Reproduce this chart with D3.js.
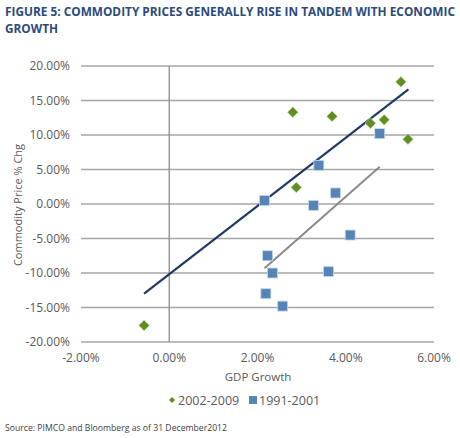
<!DOCTYPE html>
<html lang="en">
	<head>
		<meta charset="utf-8">
		<title>Commodity Prices vs GDP Growth</title>
		<script type="text/javascript" src="https://cdn.jsdelivr.net/npm/d3@7"></script>
		<style type="text/css">
			html, body {
				margin: 0;
				background-color: white;
			}
		</style>
	</head>
	<body>
		<script type="text/javascript">

			// 2002-2009 series (GDP growth %, commodity price % chg)
			var gdp0209 = [2.80, 3.69, 5.25, 4.56, 4.87, 5.41, 2.88, -0.57];
			var px0209 = [13.3, 12.7, 17.7, 11.7, 12.2, 9.4, 2.4, -17.6];

			// 1991-2001 series
			var gdp9101 = [2.16, 3.39, 4.77, 3.27, 3.77, 4.10, 2.23, 2.34, 3.61, 2.19, 2.57];
			var px9101 = [0.5, 5.6, 10.2, -0.2, 1.6, -4.5, -7.5, -10.0, -9.8, -13.0, -14.8];

			// trend line end points
			var trendAllX = [-0.57, 5.42];
			var trendAllY = [-13.0, 16.6];
			var trend9101X = [2.16, 4.77];
			var trend9101Y = [-9.3, 5.4];

			var xTicks = [-2, 0, 2, 4, 6];
			var yTicks = [20, 15, 10, 5, 0, -5, -10, -15, -20];
			var seriesNames = ["2002-2009", "1991-2001"];

			var w = 460;
			var h = 438;
			var green = "#5f8f20";
			var blue = "#5585b6";
			var navy = "#1d3a64";
			var grid = "#a6a6a6";
			var txt = "#595959";

			var svg = d3.select("body")
						.append("svg")
						.attr("width", w)
						.attr("height", h);

			var xScale = d3.scaleLinear()
							.domain([-2, 6])
							.range([81, 434]);

			var yScale = d3.scaleLinear()
							.domain([-20, 20])
							.range([342, 66]);

			//title
			var title = svg.append("text")
							.attr("x", 5)
							.attr("y", 16)
							.attr("fill", "#2c4a7c")
							.attr("font-family", "Open Sans, sans-serif")
							.attr("font-weight", "bold")
							.attr("font-size", 12);
			title.append("tspan")
				.attr("x", 5)
				.attr("textLength", 450)
				.attr("lengthAdjust", "spacingAndGlyphs")
				.text("FIGURE 5: COMMODITY PRICES GENERALLY RISE IN TANDEM WITH ECONOMIC");
			title.append("tspan")
				.attr("x", 5)
				.attr("dy", 17)
				.attr("textLength", 53)
				.attr("lengthAdjust", "spacingAndGlyphs")
				.text("GROWTH");

			//horizontal gridlines
			svg.append("g")
				.selectAll("line")
				.data(yTicks)
				.enter()
				.append("line")
				.attr("x1", xScale(-2))
				.attr("x2", xScale(6))
				.attr("y1", function(d) { return yScale(d); })
				.attr("y2", function(d) { return yScale(d); })
				.attr("stroke", grid)
				.attr("stroke-width", 1.3);

			//vertical axis line at 0
			svg.append("line")
				.attr("x1", xScale(0))
				.attr("x2", xScale(0))
				.attr("y1", yScale(20))
				.attr("y2", yScale(-20))
				.attr("stroke", "#8c8c8c")
				.attr("stroke-width", 1.3);

			// plain hyphen instead of the unicode minus
			var fmt = function(d) {
				return d3.format(".2f")(d).replace("\u2212", "-") + "%";
			};

			//y tick labels
			svg.append("g")
				.selectAll("text")
				.data(yTicks)
				.enter()
				.append("text")
				.attr("x", 70)
				.attr("y", function(d) { return yScale(d) + 4; })
				.attr("text-anchor", "end")
				.attr("fill", txt)
				.attr("font-family", "Open Sans, sans-serif")
				.attr("font-size", 12)
				.text(fmt);

			//x tick labels
			svg.append("g")
				.selectAll("text")
				.data(xTicks)
				.enter()
				.append("text")
				.attr("x", function(d) { return xScale(d); })
				.attr("y", 362)
				.attr("text-anchor", "middle")
				.attr("fill", txt)
				.attr("font-family", "Open Sans, sans-serif")
				.attr("font-size", 12)
				.text(fmt);

			//axis titles
			svg.append("text")
				.attr("x", 258)
				.attr("y", 381)
				.attr("text-anchor", "middle")
				.attr("fill", txt)
				.attr("font-family", "Open Sans, sans-serif")
				.attr("font-size", 11.5)
				.text("GDP Growth");

			svg.append("text")
				.attr("transform", "translate(22,205) rotate(-90)")
				.attr("text-anchor", "middle")
				.attr("fill", txt)
				.attr("font-family", "Open Sans, sans-serif")
				.attr("font-size", 11)
				.text("Commodity Price % Chg");

			//trend lines
			var line = d3.line()
						.x(function(d) { return xScale(d[0]); })
						.y(function(d) { return yScale(d[1]); });

			svg.append("path")
				.datum(d3.zip(trend9101X, trend9101Y))
				.attr("d", line)
				.attr("fill", "none")
				.attr("stroke", "#8a8a8a")
				.attr("stroke-width", 2);

			svg.append("path")
				.datum(d3.zip(trendAllX, trendAllY))
				.attr("d", line)
				.attr("fill", "none")
				.attr("stroke", navy)
				.attr("stroke-width", 2.2);

			//1991-2001 squares
			var sq = 10;
			svg.append("g")
				.selectAll("rect")
				.data(d3.zip(gdp9101, px9101))
				.enter()
				.append("rect")
				.attr("x", function(d) { return xScale(d[0]) - sq / 2; })
				.attr("y", function(d) { return yScale(d[1]) - sq / 2; })
				.attr("width", sq)
				.attr("height", sq)
				.attr("fill", blue)
				.attr("stroke", "#c9d7e8")
				.attr("stroke-width", 0.8);

			//2002-2009 diamonds
			var dm = d3.symbol().type(d3.symbolSquare).size(58);
			svg.append("g")
				.selectAll("path")
				.data(d3.zip(gdp0209, px0209))
				.enter()
				.append("path")
				.attr("d", dm)
				.attr("transform", function(d) {
					return "translate(" + xScale(d[0]) + "," + yScale(d[1]) + ") rotate(45)";
				})
				.attr("fill", green)
				.attr("stroke", "#d5e3c3")
				.attr("stroke-width", 0.6);

			//legend
			var leg = svg.append("g");
			leg.append("path")
				.attr("d", d3.symbol().type(d3.symbolSquare).size(18))
				.attr("transform", "translate(172,400) rotate(45)")
				.attr("fill", green);
			leg.append("text")
				.attr("x", 178)
				.attr("y", 404.5)
				.attr("fill", txt)
				.attr("font-family", "Open Sans, sans-serif")
				.attr("font-size", 12.5)
				.text(seriesNames[0]);
			leg.append("rect")
				.attr("x", 249)
				.attr("y", 396)
				.attr("width", 8)
				.attr("height", 8)
				.attr("fill", blue);
			leg.append("text")
				.attr("x", 259)
				.attr("y", 404.5)
				.attr("fill", txt)
				.attr("font-family", "Open Sans, sans-serif")
				.attr("font-size", 12.5)
				.text(seriesNames[1]);

			//source
			svg.append("text")
				.attr("x", 5)
				.attr("y", 431)
				.attr("fill", "#404040")
				.attr("font-family", "Open Sans, sans-serif")
				.attr("font-size", 9)
				.attr("textLength", 222)
				.attr("lengthAdjust", "spacingAndGlyphs")
				.text("Source: PIMCO and Bloomberg as of 31 December2012");

		</script>
	</body>
</html>
